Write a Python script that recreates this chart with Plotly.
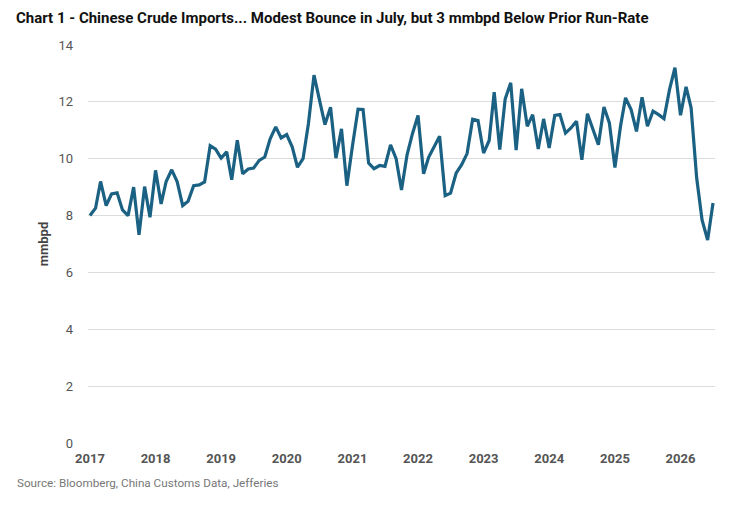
import pandas as pd
import plotly.graph_objects as go

months = pd.date_range("2017-01-01", "2026-07-01", freq="MS")

imports_2017 = [8.0, 8.26, 9.2, 8.35, 8.76, 8.8, 8.2, 8.0, 9.0, 7.32, 9.02, 7.94]
imports_2018 = [9.59, 8.41, 9.2, 9.61, 9.2, 8.35, 8.5, 9.05, 9.08, 9.18, 10.46, 10.34]
imports_2019 = [10.02, 10.24, 9.26, 10.65, 9.47, 9.64, 9.67, 9.94, 10.06, 10.7, 11.12, 10.73]
imports_2020 = [10.85, 10.41, 9.7, 10.0, 11.24, 12.94, 12.08, 11.2, 11.81, 10.02, 11.05, 9.05]
imports_2021 = [10.45, 11.74, 11.73, 9.85, 9.65, 9.76, 9.73, 10.49, 10.0, 8.9, 10.14, 10.88]
imports_2022 = [11.52, 9.47, 10.05, 10.44, 10.79, 8.7, 8.79, 9.49, 9.79, 10.18, 11.39, 11.34]
imports_2023 = [10.2, 10.64, 12.34, 10.32, 12.1, 12.67, 10.3, 12.46, 11.14, 11.55, 10.34, 11.4]
imports_2024 = [10.38, 11.52, 11.55, 10.9, 11.08, 11.32, 9.96, 11.58, 11.02, 10.49, 11.82, 11.26]
imports_2025 = [9.69, 11.14, 12.14, 11.73, 10.96, 12.16, 11.14, 11.67, 11.55, 11.41, 12.44, 13.2]
imports_2026 = [11.53, 12.53, 11.79, 9.32, 7.85, 7.14, 8.44]

values = (imports_2017 + imports_2018 + imports_2019 + imports_2020 + imports_2021
          + imports_2022 + imports_2023 + imports_2024 + imports_2025 + imports_2026)

year_ticks = [f"{y}-01-01" for y in range(2017, 2027)]
year_labels = [str(y) for y in range(2017, 2027)]
y_ticks = [0, 2, 4, 6, 8, 10, 12, 14]

W, H = 746, 497
L, R, T, B = 80, 39, 37, 62
PW, PH = W - L - R, H - T - B

fig = go.Figure()
fig.add_trace(go.Scatter(
    x=months, y=values, mode="lines",
    line=dict(color="#1b6183", width=3.2),
    hoverinfo="x+y", showlegend=False,
))

fig.update_layout(
    width=W, height=H,
    paper_bgcolor="white", plot_bgcolor="white",
    margin=dict(l=L, r=R, t=T, b=B, autoexpand=False),
    font=dict(family="Roboto", color="#555555"),
    title=dict(
        text="<b>Chart 1 - Chinese Crude Imports... Modest Bounce in July, but 3 mmbpd Below Prior Run-Rate</b>",
        x=8/W, xanchor="left", y=1 - 10/H, yanchor="middle",
        font=dict(family="Roboto", size=15, color="#111111"),
    ),
    xaxis=dict(
        type="date",
        range=["2016-12-21", "2026-07-12"],
        tickvals=year_ticks, ticktext=year_labels,
        showgrid=False, zeroline=False, showline=False,
        ticks="", tickfont=dict(family="Roboto", size=13, color="#555555", weight="bold"),
        ticklabelstandoff=6,
    ),
    yaxis=dict(
        range=[0, 14], tickvals=y_ticks,
        showgrid=True, gridcolor="#dcdcdc", gridwidth=1,
        zeroline=False, showline=False, ticks="",
        tickfont=dict(family="Roboto", size=13, color="#555555"),
        ticklabelstandoff=14,
        title=dict(text="<b>mmbpd</b>", font=dict(family="Roboto", size=13, color="#444444"), standoff=6),
    ),
    annotations=[dict(
        text="Source: Bloomberg, China Customs Data, Jefferies",
        xref="paper", yref="paper", x=(7 - L) / PW, y=-40 / PH,
        xanchor="left", yanchor="middle", showarrow=False,
        font=dict(family="Roboto", size=11.7, color="#777777"),
    )],
)

fig.write_html("out.html")
